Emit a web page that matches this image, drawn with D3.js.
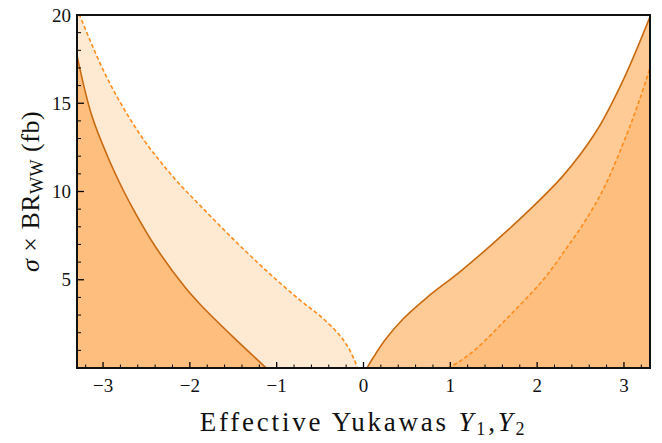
<!DOCTYPE html>
<html>
<head>
<meta charset="utf-8">
<script src="https://cdn.jsdelivr.net/npm/d3@7"></script>
<style>
  body { margin: 0; background: #fff; }
  svg text { font-family: "Liberation Serif", "DejaVu Serif", serif; fill: #111; }
</style>
</head>
<body>
<div id="chart"></div>
<script>
// values
const leftSolidX = [-3.3, -3.13, -2.94, -2.77, -2.63, -2.40, -2.06, -1.88, -1.50, -1.12];
const leftSolidY = [17.7, 14.3, 11.9, 10.1, 8.8, 6.9, 4.6, 3.6, 1.75, 0];

const leftDashX = [-3.3, -3.27, -2.94, -2.555, -2.17, -1.88, -1.50, -1.116, -0.733, -0.5, -0.3, -0.18, -0.1, -0.07];
const leftDashY = [20.4, 20, 16.3, 13.1, 10.7, 9.2, 7.3, 5.5, 3.85, 2.95, 2.0, 1.2, 0.4, 0];

const rightSolidX = [0.04, 0.12, 0.25, 0.45, 0.72, 1.11, 1.49, 1.9, 2.3, 2.68, 2.99, 3.3];
const rightSolidY = [0, 0.65, 1.6, 2.75, 3.95, 5.45, 7.05, 8.9, 10.9, 13.4, 16.3, 19.9];

const rightDashX = [0.97, 1.1, 1.3, 1.68, 2.07, 2.34, 2.6, 2.78, 3.03, 3.18, 3.3];
const rightDashY = [0, 0.35, 1.1, 2.95, 5.0, 6.8, 8.7, 10.3, 13.2, 15.2, 17.0];

const xTicks = [-3, -2, -1, 0, 1, 2, 3];
const yTicks = [5, 10, 15, 20];

const W = 662, H = 443;
const margin = {left: 77, right: 12, top: 15, bottom: 75};

const svg = d3.select("#chart").append("svg")
    .attr("width", W)
    .attr("height", H);

const x = d3.scaleLinear().domain([-3.3, 3.3]).range([margin.left, W - margin.right]);
const y = d3.scaleLinear().domain([0, 20]).range([H - margin.bottom, margin.top]);

svg.append("clipPath").attr("id", "plot")
    .append("rect")
    .attr("x", x(-3.3)).attr("y", y(20))
    .attr("width", x(3.3) - x(-3.3)).attr("height", y(0) - y(20));

const g = svg.append("g").attr("clip-path", "url(#plot)");

const pts = (xs, ys) => xs.map((v, i) => [v, ys[i]]);

const curve = d3.curveCatmullRom.alpha(0.5);
const area = d3.area()
    .x(d => x(d[0])).y0(y(0)).y1(d => y(d[1]))
    .curve(curve);
const line = d3.line()
    .x(d => x(d[0])).y(d => y(d[1]))
    .curve(curve);

const leftSolid = pts(leftSolidX, leftSolidY);
const leftDash = pts(leftDashX, leftDashY);
const rightSolid = pts(rightSolidX, rightSolidY);
const rightDash = pts(rightDashX, rightDashY);

// fills: light under the dashed curve on the left, darker on overlap
g.append("path").attr("d", area(leftDash)).attr("fill", "#fee9d3");
g.append("path").attr("d", area(leftSolid)).attr("fill", "#febe7e");
g.append("path").attr("d", area(rightSolid)).attr("fill", "#fecb96");
g.append("path").attr("d", area(rightDash)).attr("fill", "#febe7e");

[leftSolid, rightSolid].forEach(d => {
    g.append("path").attr("d", line(d))
        .attr("fill", "none").attr("stroke", "#c96a10").attr("stroke-width", 1.6);
});
[leftDash, rightDash].forEach(d => {
    g.append("path").attr("d", line(d))
        .attr("fill", "none").attr("stroke", "#ff8c1a").attr("stroke-width", 1.6)
        .attr("stroke-dasharray", "4,2.5");
});

// inward ticks, bottom and left only
const axes = svg.append("g").attr("stroke", "#000");
d3.range(-3.2, 3.3, 0.2).forEach(v => {
    const major = Math.abs(v - Math.round(v)) < 1e-6;
    axes.append("line")
        .attr("x1", x(v)).attr("x2", x(v))
        .attr("y1", y(0)).attr("y2", y(0) - (major ? 6 : 3.5))
        .attr("stroke-width", major ? 1.3 : 1);
});
d3.range(1, 20, 1).forEach(v => {
    const major = v % 5 === 0;
    axes.append("line")
        .attr("x1", x(-3.3)).attr("x2", x(-3.3) + (major ? 7 : 4))
        .attr("y1", y(v)).attr("y2", y(v))
        .attr("stroke-width", major ? 1.3 : 1);
});

svg.append("rect")
    .attr("x", x(-3.3)).attr("y", y(20))
    .attr("width", x(3.3) - x(-3.3)).attr("height", y(0) - y(20))
    .attr("fill", "none").attr("stroke", "#111").attr("stroke-width", 2);

svg.selectAll(".xt").data(xTicks).join("text")
    .attr("class", "xt")
    .attr("x", d => x(d)).attr("y", y(0) + 24)
    .attr("text-anchor", "middle")
    .attr("font-size", 19)
    .text(d => d < 0 ? "\u2212" + Math.abs(d) : d);

svg.selectAll(".yt").data(yTicks).join("text")
    .attr("class", "yt")
    .attr("x", x(-3.3) - 6).attr("y", d => y(d)).attr("dy", "0.35em")
    .attr("text-anchor", "end")
    .attr("font-size", 19)
    .text(d => d);

const xl = svg.append("text")
    .attr("x", x(0)).attr("y", 431)
    .attr("text-anchor", "middle")
    .attr("font-size", 27)
    .attr("letter-spacing", 2.8);
xl.append("tspan").text("Effective Yukawas ");
xl.append("tspan").attr("font-style", "italic").text("Y");
xl.append("tspan").attr("font-size", 18).attr("dy", 4).text("1");
xl.append("tspan").attr("dy", -4).text(",");
xl.append("tspan").attr("font-style", "italic").text("Y");
xl.append("tspan").attr("font-size", 18).attr("dy", 4).text("2");

const yl = svg.append("text")
    .attr("transform", `translate(39,${(y(0) + y(20)) / 2}) rotate(-90)`)
    .attr("text-anchor", "middle")
    .attr("font-size", 26)
    .attr("letter-spacing", 0.5);
yl.append("tspan").attr("font-style", "italic").text("\u03c3");
yl.append("tspan").text(" \u00d7 BR");
yl.append("tspan").attr("font-size", 18).attr("dy", 4).text("WW");
yl.append("tspan").attr("dy", -4).text(" (fb)");
</script>
</body>
</html>
